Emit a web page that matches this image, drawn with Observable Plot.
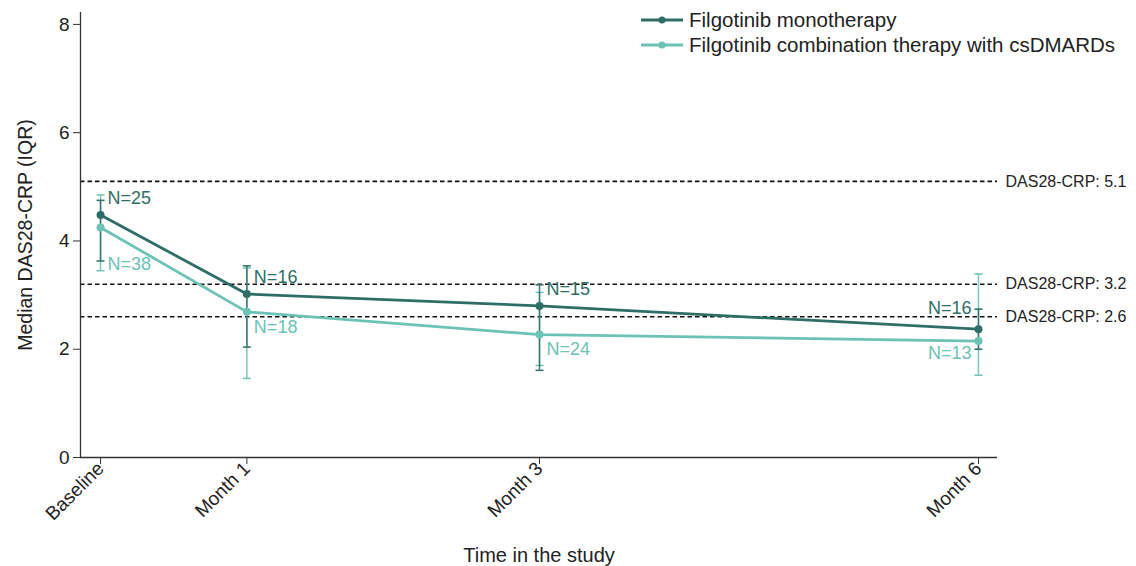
<!DOCTYPE html>
<html>
<head>
<meta charset="utf-8">
<script src="https://cdn.jsdelivr.net/npm/d3@7"></script>
<script src="https://cdn.jsdelivr.net/npm/@observablehq/plot@0.6"></script>
<style>
  html, body { margin: 0; padding: 0; background: #fff; }
  #wrap { position: relative; width: 1136px; height: 566px; font-family: "Liberation Sans", Arial, sans-serif; }
  #legend { position: absolute; left: 641px; top: 7px; font-size: 20.5px; color: #222; }
  #legend .row { display: flex; align-items: center; height: 25px; }
  #legend svg { margin-right: 6px; }
  #chart g[aria-label="y-axis tick label"] text { font-size: 19px !important; }
  #chart g[aria-label="x-axis tick label"] text { font-size: 19px !important; }
  #chart g[aria-label="y-axis label"] text { font-size: 19.5px !important; }
  #chart g[aria-label="x-axis label"] text { font-size: 20px !important; }
</style>
</head>
<body>
<div id="wrap"><div id="chart"></div><div id="legend"></div></div>
<script>
const months = [0, 1, 3, 6];
const tickLabels = ["Baseline", "Month 1", "Month 3", "Month 6"];
const seriesNames = ["Filgotinib monotherapy", "Filgotinib combination therapy with csDMARDs"];
const seriesColors = ["#2e6e66", "#6cc2b4"];
const monoMedian = [4.48, 3.02, 2.80, 2.37];
const monoQ1 = [3.63, 2.04, 1.61, 2.00];
const monoQ3 = [4.75, 3.54, 3.19, 2.74];
const monoN = [25, 16, 15, 16];
const comboMedian = [4.25, 2.69, 2.27, 2.15];
const comboQ1 = [3.45, 1.46, 1.70, 1.52];
const comboQ3 = [4.85, 3.50, 3.05, 3.39];
const comboN = [38, 18, 24, 13];
const refValues = [5.1, 3.2, 2.6];
const yTicks = [0, 2, 4, 6, 8];

const mono = months.map((m, i) => ({month: m, s: seriesNames[0], med: monoMedian[i], q1: monoQ1[i], q3: monoQ3[i], n: monoN[i]}));
const combo = months.map((m, i) => ({month: m, s: seriesNames[1], med: comboMedian[i], q1: comboQ1[i], q3: comboQ3[i], n: comboN[i]}));
const xDomain = [-0.137, 6.13];
const font = "Liberation Sans, Arial, sans-serif";

const cap = { draw(ctx, size) { ctx.moveTo(-4, 0); ctx.lineTo(4, 0); } };

function errBars(data, color) {
  return [
    Plot.ruleX(data, {x: "month", y1: "q1", y2: "q3", stroke: color, strokeWidth: 1.5, strokeOpacity: 0.9}),
    Plot.dot(data, {x: "month", y: "q1", symbol: cap, stroke: color, fill: "none", strokeWidth: 1.5, r: 4}),
    Plot.dot(data, {x: "month", y: "q3", symbol: cap, stroke: color, fill: "none", strokeWidth: 1.5, r: 4})
  ];
}
const nText = d => `N=${d.n}`;

const chart = Plot.plot({
  width: 1136,
  height: 566,
  marginLeft: 80,
  marginRight: 139,
  marginTop: 12,
  marginBottom: 109,
  style: {fontFamily: font, fontSize: "16px", color: "#222", background: "#fff"},
  x: {type: "linear", domain: xDomain},
  y: {domain: [0, 8.22]},
  marks: [
    Plot.ruleY(refValues, {x1: xDomain[0], x2: xDomain[1], stroke: "#111", strokeWidth: 1.6, strokeDasharray: "4.5,3"}),
    Plot.text(refValues, {x: xDomain[1], y: d => d, text: d => `DAS28-CRP: ${d}`, textAnchor: "start", dx: 8, fontSize: 16, fill: "#222"}),
    ...errBars(combo, seriesColors[1]),
    ...errBars(mono, seriesColors[0]),
    Plot.line(combo, {x: "month", y: "med", stroke: seriesColors[1], strokeWidth: 2.8}),
    Plot.line(mono, {x: "month", y: "med", stroke: seriesColors[0], strokeWidth: 2.8}),
    Plot.dot(combo, {x: "month", y: "med", fill: seriesColors[1], r: 4}),
    Plot.dot(mono, {x: "month", y: "med", fill: seriesColors[0], r: 4}),
    Plot.text(mono.filter(d => d.month < 6), {x: "month", y: "med", text: nText, textAnchor: "start", dx: 7, dy: -17, fontSize: 18, fill: seriesColors[0]}),
    Plot.text(mono.filter(d => d.month === 6), {x: "month", y: "med", text: nText, textAnchor: "end", dx: -7, dy: -21, fontSize: 18, fill: seriesColors[0]}),
    Plot.text(combo.filter(d => d.month === 0), {x: "month", y: "med", text: nText, textAnchor: "start", dx: 7, dy: 37, fontSize: 18, fill: seriesColors[1]}),
    Plot.text(combo.filter(d => d.month > 0 && d.month < 6), {x: "month", y: "med", text: nText, textAnchor: "start", dx: 7, dy: 15, fontSize: 18, fill: seriesColors[1]}),
    Plot.text(combo.filter(d => d.month === 6), {x: "month", y: "med", text: nText, textAnchor: "end", dx: -7, dy: 12, fontSize: 18, fill: seriesColors[1]}),
    Plot.ruleY([0], {x1: xDomain[0], x2: xDomain[1], stroke: "#333", strokeWidth: 1.3}),
    Plot.ruleX([xDomain[0]], {y1: 0, y2: 8.22, stroke: "#333", strokeWidth: 1.3}),
    Plot.axisY({ticks: yTicks, tickSize: 7, tickPadding: 4, stroke: "#333", label: "Median DAS28-CRP (IQR)", labelAnchor: "center", labelOffset: 62, labelArrow: "none"}),
    Plot.axisX({ticks: months, tickFormat: d => tickLabels[months.indexOf(d)], tickSize: 7, tickPadding: 1, tickRotate: -45, stroke: "#333", label: "Time in the study", labelAnchor: "center", labelOffset: 104, labelArrow: "none"})
  ]
});
document.getElementById("chart").appendChild(chart);

// Legend
const leg = document.getElementById("legend");
seriesNames.forEach((name, i) => {
  const row = document.createElement("div");
  row.className = "row";
  row.innerHTML = `<svg width="42" height="10"><line x1="0" y1="5" x2="42" y2="5" stroke="${seriesColors[i]}" stroke-width="2.8"/><circle cx="21" cy="5" r="3.5" fill="${seriesColors[i]}"/></svg><span>${name}</span>`;
  leg.appendChild(row);
});
</script>
</body>
</html>
